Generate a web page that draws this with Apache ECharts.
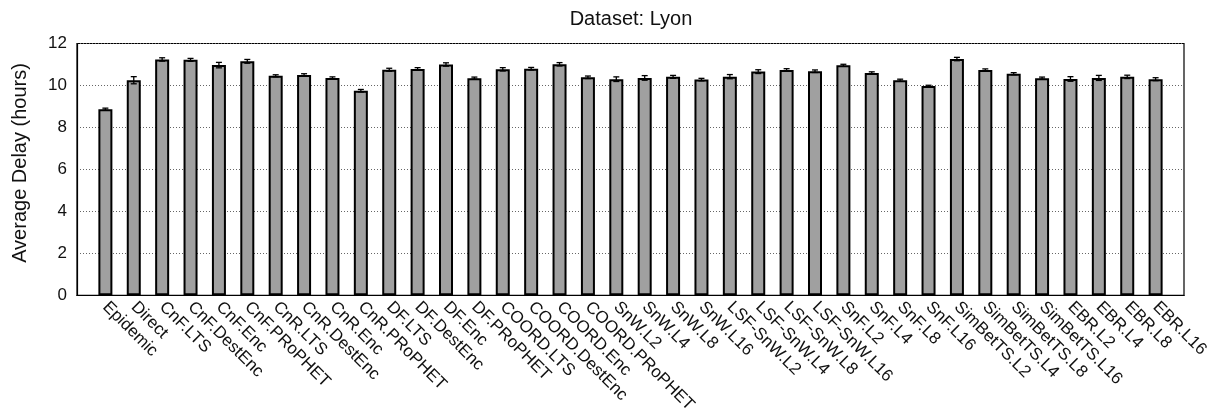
<!DOCTYPE html>
<html>
<head>
<meta charset="utf-8">
<script src="https://cdn.jsdelivr.net/npm/echarts@6/dist/echarts.min.js"></script>
<style>
html,body{margin:0;padding:0;background:#fff;}
#chart{width:1213px;height:416px;}
</style>
</head>
<body>
<div id="chart"></div>
<script>
const categories = ["Epidemic","Direct","CnF.LTS","CnF.DestEnc","CnF.Enc","CnF.PRoPHET","CnR.LTS","CnR.DestEnc","CnR.Enc","CnR.PRoPHET","DF.LTS","DF.DestEnc","DF.Enc","DF.PRoPHET","COORD.LTS","COORD.DestEnc","COORD.Enc","COORD.PRoPHET","SnW.L2","SnW.L4","SnW.L8","SnW.L16","LSF-SnW.L2","LSF-SnW.L4","LSF-SnW.L8","LSF-SnW.L16","SnF.L2","SnF.L4","SnF.L8","SnF.L16","SimBetTS.L2","SimBetTS.L4","SimBetTS.L8","SimBetTS.L16","EBR.L2","EBR.L4","EBR.L8","EBR.L16"];
const delays = [8.87,10.25,11.24,11.22,10.97,11.15,10.46,10.50,10.36,9.75,10.75,10.79,11.00,10.35,10.77,10.80,11.01,10.39,10.30,10.36,10.41,10.28,10.42,10.66,10.74,10.68,10.96,10.60,10.25,9.97,11.26,10.74,10.56,10.35,10.31,10.36,10.41,10.30];
const errors = [0.05,0.17,0.08,0.07,0.13,0.09,0.05,0.06,0.05,0.06,0.07,0.06,0.08,0.05,0.08,0.06,0.08,0.06,0.11,0.11,0.07,0.06,0.10,0.09,0.06,0.06,0.05,0.05,0.05,0.04,0.08,0.05,0.05,0.05,0.11,0.12,0.08,0.07];
const yTicks = [0,2,4,6,8,10,12];
const titleText = "Dataset: Lyon";
const yName = "Average Delay (hours)";

const chart = echarts.init(document.getElementById('chart'), null, {renderer:'canvas'});
const font = 'Liberation Sans, Arial, Helvetica, sans-serif';
const barData = delays.map((v,i)=>[i,v]);
const errData = delays.map((v,i)=>[i,v]);

chart.setOption({
  animation:false,
  backgroundColor:'#fff',
  graphic:[
    {type:'text',x:631,y:19,style:{text:titleText,fontFamily:font,fontSize:20,fill:'#111',textAlign:'center',textVerticalAlign:'middle'}},
    {type:'text',x:20,y:163,rotation:Math.PI/2,style:{text:yName,fontFamily:font,fontSize:20,fill:'#111',textAlign:'center',textVerticalAlign:'middle'}}
  ],
  grid:{left:77,right:29,top:43.5,bottom:118,show:true,borderColor:'#000',borderWidth:1.2,backgroundColor:'transparent'},
  xAxis:{type:'value',min:-1,max:categories.length,interval:1,
    axisLine:{show:true,onZero:false,lineStyle:{color:'#000',width:1.2}},
    axisTick:{show:false},splitLine:{show:false},
    axisLabel:{rotate:-45,margin:9,fontFamily:font,fontSize:17,color:'#111',
      formatter:v=>(v>=0&&v<categories.length)?categories[v]:''}},
  yAxis:{type:'value',min:yTicks[0],max:yTicks[yTicks.length-1],interval:2,
    axisLine:{show:true,onZero:false,lineStyle:{color:'#000',width:1.2}},
    axisTick:{show:false},
    axisLabel:{margin:10,fontFamily:font,fontSize:17,color:'#111'},
    splitLine:{show:true,lineStyle:{color:'#666',type:[1,2],width:1}}},
  series:[
    {type:'bar',data:barData,barWidth:14,
      itemStyle:{color:'#a0a0a0',borderColor:'#000',borderWidth:2}},
    {type:'custom',data:errData,z:10,
      renderItem:(params,api)=>{
        const i=params.dataIndex;
        const lo=api.coord([i,delays[i]-errors[i]]);
        const hi=api.coord([i,delays[i]+errors[i]]);
        const cw=3;
        const st={stroke:'#000',lineWidth:1.3};
        return {type:'group',children:[
          {type:'line',shape:{x1:lo[0],y1:lo[1],x2:hi[0],y2:hi[1]},style:st},
          {type:'line',shape:{x1:lo[0]-cw,y1:lo[1],x2:lo[0]+cw,y2:lo[1]},style:st},
          {type:'line',shape:{x1:hi[0]-cw,y1:hi[1],x2:hi[0]+cw,y2:hi[1]},style:st}
        ]};
      }}
  ]
});
</script>
</body>
</html>
